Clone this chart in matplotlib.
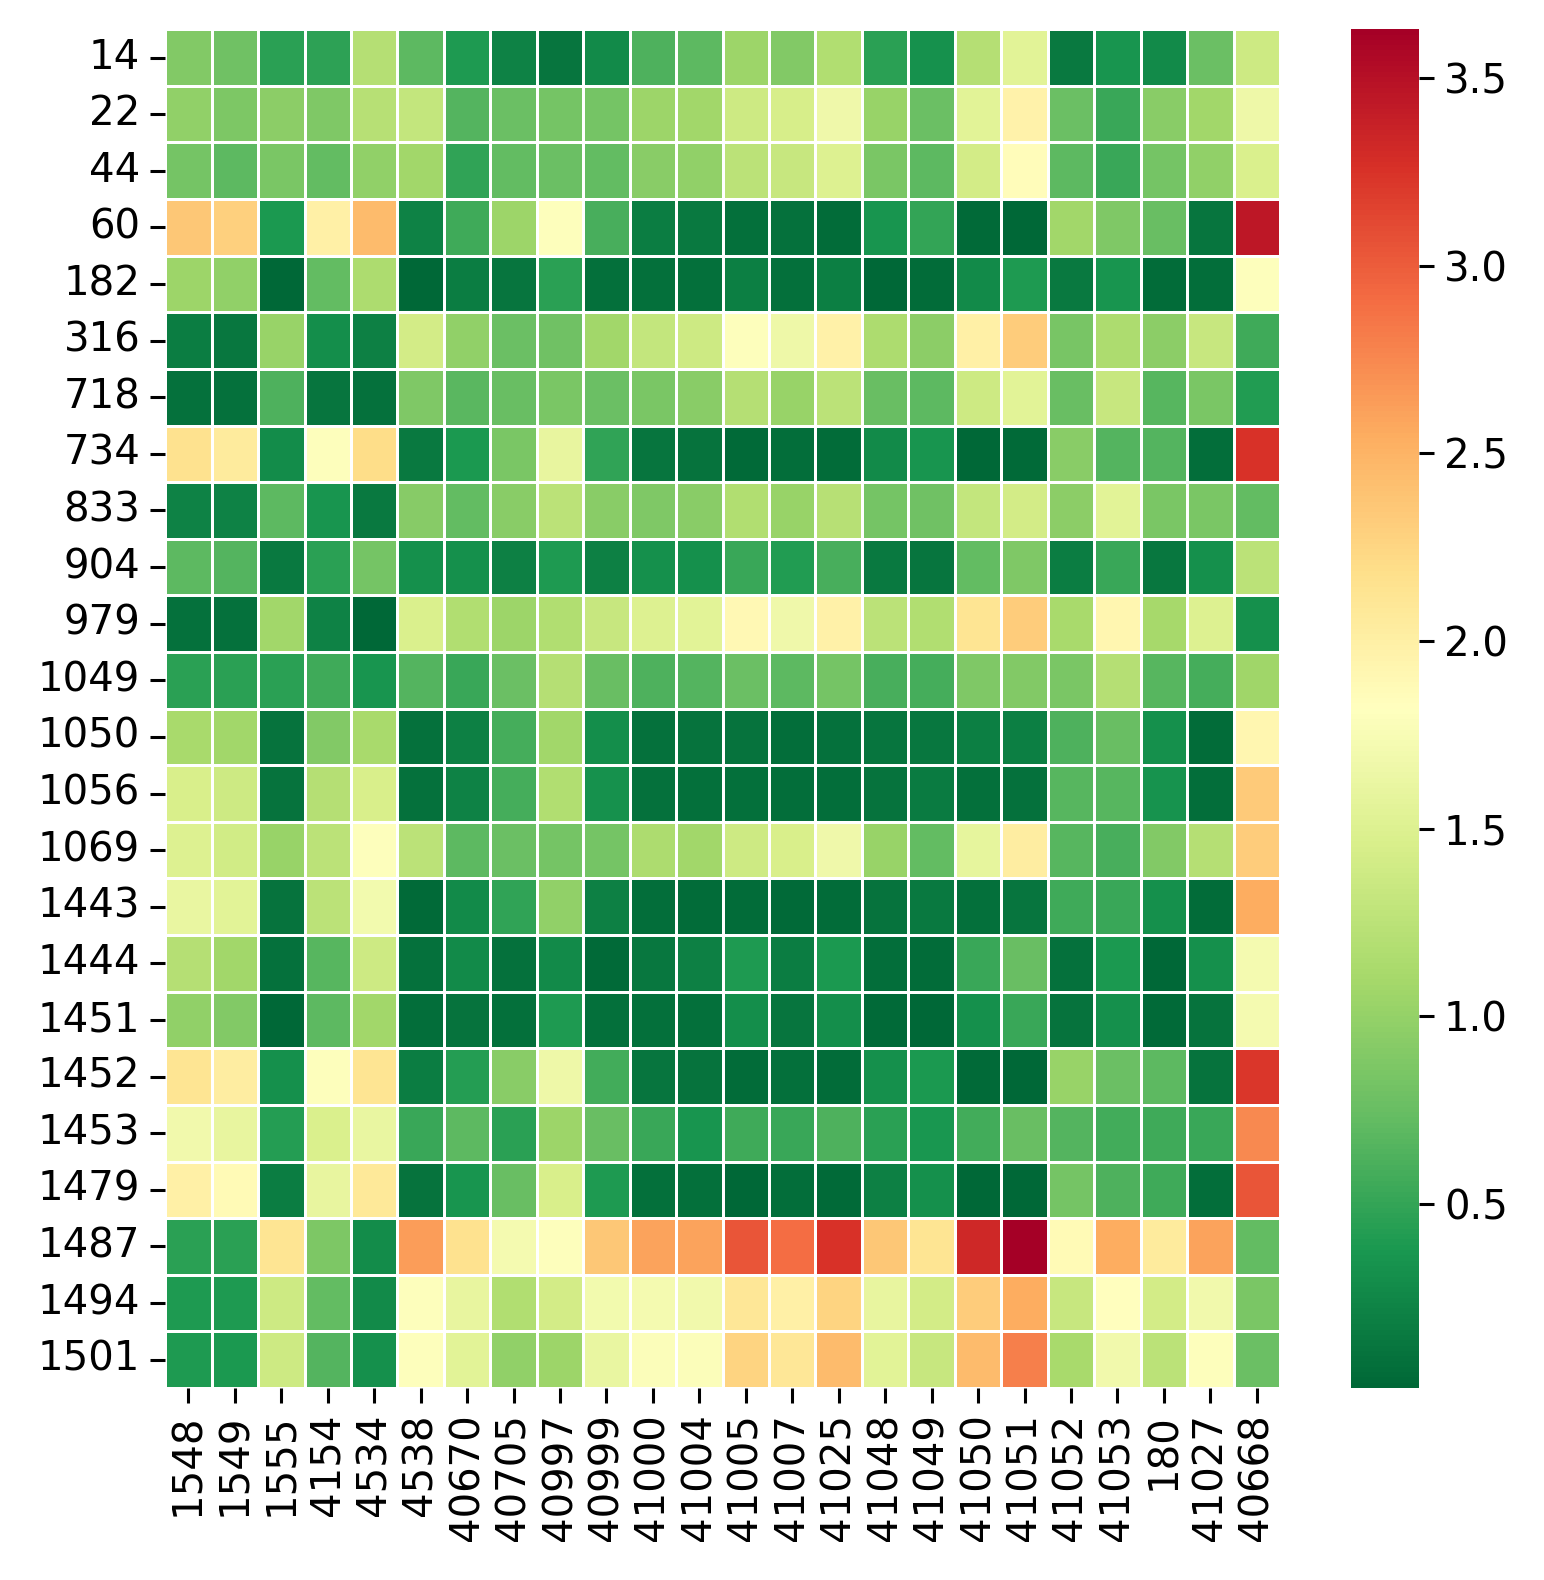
import matplotlib
matplotlib.use("Agg")
import matplotlib.pyplot as plt
import seaborn as sns
import numpy as np
import pandas as pd

row_labels = ["14", "22", "44", "60", "182", "316", "718", "734", "833", "904", "979", "1049",
              "1050", "1056", "1069", "1443", "1444", "1451", "1452", "1453", "1479", "1487",
              "1494", "1501"]
col_labels = ["1548", "1549", "1555", "4154", "4534", "4538", "40670", "40705", "40997", "40999",
              "41000", "41004", "41005", "41007", "41025", "41048", "41049", "41050", "41051",
              "41052", "41053", "180", "41027", "40668"]

r14   = [0.90, 0.80, 0.45, 0.47, 1.20, 0.70, 0.40, 0.22, 0.12, 0.27, 0.62, 0.70, 1.05, 0.90, 1.17, 0.45, 0.33, 1.20, 1.55, 0.15, 0.35, 0.27, 0.77, 1.38]
r22   = [0.98, 0.87, 0.95, 0.88, 1.22, 1.30, 0.65, 0.77, 0.83, 0.83, 1.05, 1.08, 1.38, 1.45, 1.67, 1.02, 0.77, 1.55, 1.97, 0.77, 0.52, 0.93, 1.08, 1.66]
r44   = [0.83, 0.70, 0.85, 0.72, 0.98, 1.08, 0.48, 0.72, 0.76, 0.72, 0.93, 0.98, 1.25, 1.33, 1.50, 0.85, 0.70, 1.42, 1.85, 0.70, 0.52, 0.83, 0.98, 1.48]
r60   = [2.37, 2.30, 0.38, 2.00, 2.45, 0.22, 0.55, 1.05, 1.80, 0.60, 0.17, 0.15, 0.08, 0.09, 0.04, 0.36, 0.50, 0.03, 0.02, 1.08, 0.88, 0.75, 0.12, 3.45]
r182  = [1.05, 0.98, 0.02, 0.72, 1.15, 0.02, 0.17, 0.12, 0.45, 0.07, 0.07, 0.07, 0.18, 0.07, 0.18, 0.02, 0.04, 0.27, 0.40, 0.14, 0.35, 0.04, 0.06, 1.80]
r316  = [0.17, 0.13, 1.02, 0.30, 0.20, 1.42, 0.98, 0.77, 0.80, 1.08, 1.30, 1.38, 1.80, 1.66, 1.98, 1.15, 0.95, 2.00, 2.32, 0.84, 1.15, 0.95, 1.33, 0.55]
r718  = [0.09, 0.09, 0.62, 0.12, 0.09, 0.88, 0.68, 0.75, 0.85, 0.77, 0.85, 0.93, 1.20, 1.02, 1.25, 0.75, 0.70, 1.38, 1.55, 0.75, 1.33, 0.67, 0.85, 0.42]
r734  = [2.15, 2.05, 0.28, 1.80, 2.20, 0.15, 0.38, 0.85, 1.60, 0.48, 0.12, 0.10, 0.03, 0.06, 0.04, 0.27, 0.35, 0.02, 0.03, 0.93, 0.65, 0.65, 0.06, 3.25]
r833  = [0.22, 0.22, 0.70, 0.35, 0.14, 0.92, 0.72, 0.93, 1.25, 0.93, 0.88, 0.93, 1.17, 1.02, 1.22, 0.83, 0.80, 1.30, 1.42, 0.95, 1.55, 0.85, 0.85, 0.72]
r904  = [0.70, 0.66, 0.15, 0.45, 0.82, 0.32, 0.32, 0.20, 0.40, 0.20, 0.32, 0.32, 0.52, 0.42, 0.60, 0.15, 0.12, 0.72, 0.88, 0.17, 0.52, 0.13, 0.32, 1.25]
r979  = [0.09, 0.09, 1.08, 0.22, 0.02, 1.48, 1.17, 1.05, 1.17, 1.33, 1.50, 1.55, 1.90, 1.67, 1.98, 1.25, 1.17, 2.12, 2.32, 1.12, 1.93, 1.10, 1.50, 0.32]
r1049 = [0.45, 0.45, 0.45, 0.55, 0.35, 0.65, 0.52, 0.77, 1.20, 0.75, 0.62, 0.65, 0.77, 0.70, 0.82, 0.60, 0.58, 0.88, 0.90, 0.85, 1.20, 0.67, 0.58, 1.06]
r1050 = [1.12, 1.08, 0.10, 0.90, 1.12, 0.09, 0.20, 0.58, 1.08, 0.30, 0.09, 0.10, 0.10, 0.06, 0.09, 0.12, 0.13, 0.18, 0.18, 0.62, 0.75, 0.32, 0.05, 1.93]
r1056 = [1.46, 1.38, 0.10, 1.20, 1.46, 0.09, 0.22, 0.58, 1.17, 0.33, 0.09, 0.07, 0.07, 0.06, 0.06, 0.10, 0.16, 0.07, 0.09, 0.67, 0.67, 0.34, 0.06, 2.33]
r1069 = [1.50, 1.40, 1.02, 1.25, 1.80, 1.25, 0.70, 0.77, 0.83, 0.83, 1.15, 1.08, 1.38, 1.46, 1.67, 1.02, 0.72, 1.58, 2.02, 0.67, 0.60, 0.90, 1.20, 2.32]
r1443 = [1.62, 1.55, 0.10, 1.25, 1.70, 0.03, 0.27, 0.48, 0.98, 0.20, 0.06, 0.04, 0.05, 0.03, 0.05, 0.10, 0.15, 0.07, 0.12, 0.55, 0.52, 0.32, 0.04, 2.55]
r1444 = [1.20, 1.08, 0.09, 0.67, 1.38, 0.09, 0.27, 0.09, 0.27, 0.03, 0.13, 0.20, 0.40, 0.17, 0.39, 0.06, 0.05, 0.52, 0.75, 0.09, 0.39, 0.02, 0.32, 1.72]
r1451 = [0.98, 0.90, 0.02, 0.70, 1.08, 0.06, 0.10, 0.08, 0.40, 0.08, 0.08, 0.08, 0.30, 0.12, 0.30, 0.03, 0.02, 0.32, 0.53, 0.10, 0.32, 0.03, 0.10, 1.72]
r1452 = [2.12, 2.02, 0.32, 1.80, 2.12, 0.17, 0.43, 0.93, 1.66, 0.57, 0.12, 0.10, 0.04, 0.07, 0.05, 0.32, 0.38, 0.03, 0.02, 1.02, 0.77, 0.70, 0.10, 3.22]
r1453 = [1.68, 1.60, 0.43, 1.47, 1.62, 0.52, 0.70, 0.45, 1.05, 0.75, 0.52, 0.35, 0.55, 0.52, 0.62, 0.45, 0.37, 0.57, 0.75, 0.65, 0.57, 0.55, 0.52, 2.75]
r1479 = [2.00, 1.88, 0.17, 1.60, 2.08, 0.10, 0.35, 0.75, 1.46, 0.40, 0.08, 0.07, 0.02, 0.06, 0.03, 0.20, 0.32, 0.02, 0.02, 0.83, 0.62, 0.55, 0.06, 3.05]
r1487 = [0.45, 0.45, 2.12, 0.87, 0.28, 2.63, 2.15, 1.72, 1.80, 2.37, 2.60, 2.60, 3.05, 2.90, 3.25, 2.36, 2.12, 3.33, 3.63, 1.88, 2.55, 2.05, 2.60, 0.72]
r1494 = [0.40, 0.40, 1.38, 0.72, 0.27, 1.80, 1.60, 1.17, 1.42, 1.70, 1.72, 1.68, 2.10, 2.00, 2.27, 1.60, 1.42, 2.32, 2.55, 1.33, 1.83, 1.42, 1.68, 0.85]
r1501 = [0.40, 0.38, 1.38, 0.65, 0.32, 1.80, 1.55, 0.98, 1.05, 1.62, 1.78, 1.78, 2.27, 2.10, 2.45, 1.55, 1.33, 2.45, 2.80, 1.12, 1.68, 1.25, 1.80, 0.77]

rows = [r14, r22, r44, r60, r182, r316, r718, r734, r833, r904, r979, r1049,
        r1050, r1056, r1069, r1443, r1444, r1451, r1452, r1453, r1479, r1487, r1494, r1501]

df = pd.DataFrame(rows, index=row_labels, columns=col_labels)

fig = plt.figure(figsize=(7.72, 7.9), dpi=200)
ax = fig.add_axes([0.107, 0.1215, 0.722, 0.86])
cax = fig.add_axes([0.875, 0.1215, 0.044, 0.86])

sns.heatmap(df, ax=ax, cbar_ax=cax, cmap="RdYlGn_r", vmin=0.01, vmax=3.63,
            linewidths=1.0, linecolor="white")

fs = 14.5
ax.tick_params(axis="both", labelsize=fs, length=5.5, width=1.1)
ax.set_xticklabels(col_labels, rotation=90)
ax.set_yticklabels(row_labels, rotation=0)
cax.set_yticks([0.5, 1.0, 1.5, 2.0, 2.5, 3.0, 3.5])
cax.tick_params(labelsize=fs, length=5.5, width=1.1)

fig.savefig("out.png", dpi=200)
